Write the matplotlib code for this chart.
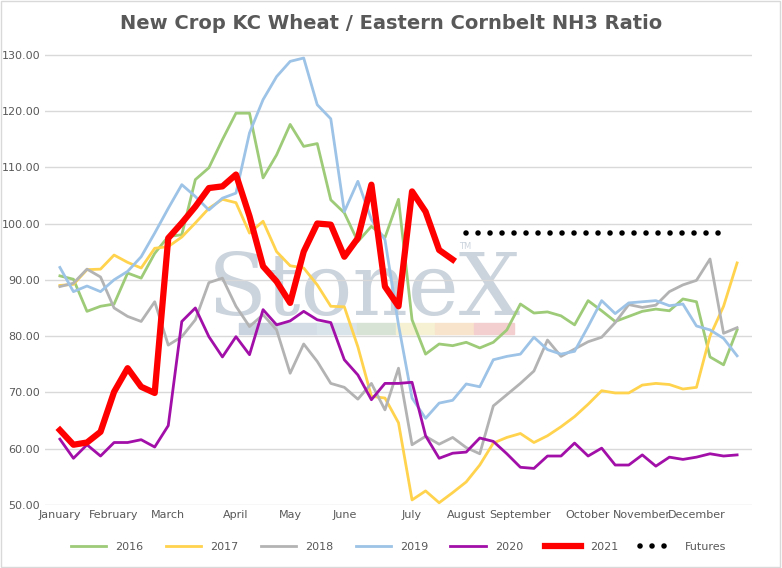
import matplotlib.pyplot as plt
import numpy as np

y2016 = [90.7, 90.1, 84.4, 85.3, 85.7, 91.2, 90.3, 94.7, 97.7, 98.0, 107.8, 109.9, 114.9, 119.6, 119.6,
         108.1, 112.2, 117.6, 113.7, 114.2, 104.2, 101.9, 96.8, 99.5, 97.5, 104.3, 82.9, 76.8, 78.6, 78.3,
         78.9, 77.9, 78.9, 81.1, 85.7, 84.1, 84.3, 83.6, 82.0, 86.3, 84.5, 82.6, 83.5, 84.4, 84.8, 84.5,
         86.6, 86.1, 76.3, 74.9, 81.1]
y2017 = [89.0, 89.2, 91.8, 91.9, 94.4, 93.1, 92.1, 95.6, 95.9, 97.6, 100.1, 102.7, 104.3, 103.7, 98.3,
         100.4, 95.0, 92.5, 92.1, 89.1, 85.3, 85.2, 78.1, 69.3, 69.0, 64.6, 50.9, 52.5, 50.4, 52.2,
         54.1, 57.1, 61.0, 62.0, 62.7, 61.1, 62.3, 63.9, 65.7, 67.9, 70.3, 69.9, 69.9, 71.3, 71.6, 71.4,
         70.6, 70.9, 80.0, 85.3, 93.0]
y2018 = [88.8, 89.4, 91.9, 90.5, 85.0, 83.5, 82.6, 86.1, 78.4, 79.9, 82.9, 89.5, 90.3, 85.3, 81.7,
         83.8, 81.1, 73.4, 78.6, 75.5, 71.6, 70.9, 68.8, 71.6, 66.9, 74.3, 60.7, 62.2, 60.8, 62.0,
         60.2, 59.1, 67.6, 69.6, 71.6, 73.8, 79.3, 76.4, 77.7, 79.0, 79.8, 82.4, 85.6, 85.1, 85.5, 87.9,
         89.1, 89.9, 93.7, 80.5, 81.5]
y2019 = [92.2, 87.9, 88.9, 87.9, 90.0, 91.5, 94.1, 98.3, 102.7, 106.9, 104.8, 102.4, 104.5, 105.4, 116.1,
         122.0, 126.1, 128.8, 129.4, 121.1, 118.6, 102.1, 107.5, 100.7, 97.1, 82.0, 69.0, 65.4, 68.1, 68.6,
         71.5, 71.0, 75.8, 76.4, 76.8, 79.8, 77.6, 76.8, 77.3, 81.7, 86.3, 84.0, 85.9, 86.1, 86.3, 85.4,
         85.7, 81.8, 81.1, 79.6, 76.5]
y2020 = [61.7, 58.3, 60.7, 58.7, 61.1, 61.1, 61.6, 60.3, 64.1, 82.6, 85.0, 79.9, 76.3, 79.9, 76.7,
         84.7, 82.0, 82.7, 84.4, 82.9, 82.4, 75.8, 73.1, 68.7, 71.6, 71.6, 71.8, 62.3, 58.3, 59.2,
         59.4, 61.9, 61.3, 59.1, 56.7, 56.5, 58.7, 58.7, 61.0, 58.7, 60.1, 57.1, 57.1, 58.9, 56.9, 58.5,
         58.1, 58.5, 59.1, 58.7, 58.9]
y2021 = [63.3, 60.7, 61.1, 63.0, 70.1, 74.3, 71.0, 69.9, 97.4, 100.1, 103.0, 106.3, 106.6, 108.7, 101.3,
         92.4, 89.7, 85.9, 95.0, 100.0, 99.8, 94.1, 97.4, 106.9, 88.8, 85.3, 105.7, 102.1, 95.3, 93.6]
futures_start, futures_end, futures_value = 30, 49, 98.4

months = ["January", "February", "March", "April", "May", "June", "July",
          "August", "September", "October", "November", "December"]
month_pos = [0, 4, 8, 13, 17, 21, 26, 30, 34, 39, 43, 47]

fig = plt.figure(figsize=(7.82, 5.68), dpi=100)
ax = fig.add_axes([45 / 782, 1 - 505 / 568, 707 / 782, 456 / 568])

# watermark
ax.text(22.5, 88, "StoneX", fontsize=62, family="DejaVu Serif", color="#cbd3dc",
        ha="center", va="center", zorder=0)
ax.text(29.5, 95.5, "TM", fontsize=6, color="#cbd3dc", zorder=0)
strip = ["#c9d3df", "#d4dde6", "#d8e3ea", "#d7e3d5", "#f6f1d2", "#f8e4cc", "#f4cfcf"]
for k, c in enumerate(strip):
    ax.axhspan(80.3, 82.3, xmin=(13.2 + 2.9 * k + 1.1) / 52.2, xmax=(16.1 + 2.9 * k + 1.1) / 52.2,
               color=c, zorder=0)

x = np.arange(51)
ax.plot(x, y2016, color="#9dcb78", lw=2, label="2016")
ax.plot(x, y2017, color="#ffd34d", lw=2, label="2017")
ax.plot(x, y2018, color="#b3b3b3", lw=2, label="2018")
ax.plot(x, y2019, color="#9dc3e6", lw=2, label="2019")
ax.plot(x, y2020, color="#a10fa8", lw=2, label="2020")
ax.plot(np.arange(len(y2021)), y2021, color="#ff0000", lw=4.5, label="2021", solid_joinstyle="round")
ax.plot([futures_start, futures_end], [futures_value, futures_value], color="black", lw=4,
        linestyle=(0, (0.01, 2.15)), dash_capstyle="round", label="Futures")

ax.set_xlim(-1.1, 51.1)
ax.set_ylim(50, 131)
ax.set_yticks(np.arange(50, 131, 10))
ax.set_yticklabels([f"{v:.2f}" for v in np.arange(50, 131, 10)])
ax.set_xticks(month_pos)
ax.set_xticklabels(months)
ax.tick_params(length=0, labelsize=8, colors="#595959")
ax.grid(axis="y", color="#d9d9d9", lw=1)
ax.set_axisbelow(True)
for s in ax.spines.values():
    s.set_visible(False)

fig.suptitle("New Crop KC Wheat / Eastern Cornbelt NH3 Ratio", y=0.975, fontsize=14,
             fontweight="bold", color="#595959")
ax.legend(loc="upper center", bbox_to_anchor=(0.5, -0.06), ncol=7, frameon=False,
          fontsize=8, handlelength=3.2, labelcolor="#595959")
fig.patches.append(plt.Rectangle((0.001, 0.001), 0.997, 0.997, transform=fig.transFigure,
                                 fill=False, edgecolor="#d9d9d9", lw=1))
fig.savefig("out.png")
